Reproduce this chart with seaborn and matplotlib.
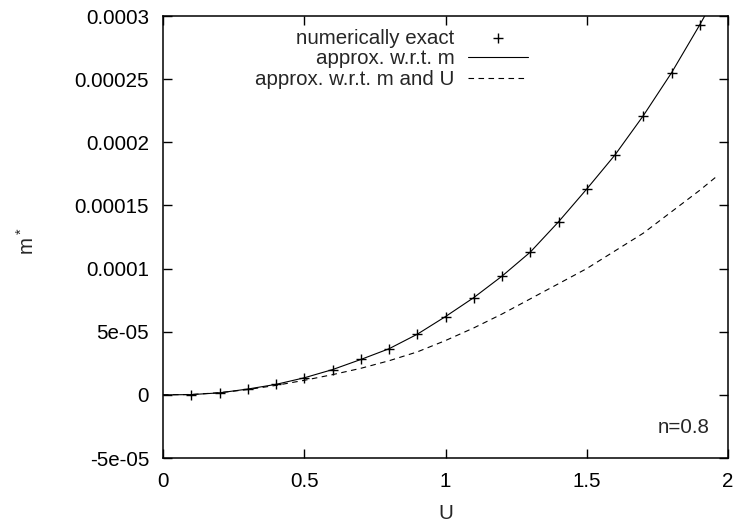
import numpy as np
import pandas as pd
import matplotlib
matplotlib.use("Agg")
import matplotlib.pyplot as plt
import seaborn as sns

# --- data ---
u_exact = [0.1, 0.2, 0.3, 0.4, 0.5, 0.6, 0.7, 0.8, 0.9, 1.0,
           1.1, 1.2, 1.3, 1.4, 1.5, 1.6, 1.7, 1.8, 1.9]
m_exact = [0.0, 1.6e-6, 4.6e-6, 8.3e-6, 1.35e-5, 2.0e-5, 2.8e-5, 3.65e-5, 4.8e-5, 6.2e-5,
           7.7e-5, 9.4e-5, 1.13e-4, 1.37e-4, 1.63e-4, 1.9e-4, 2.21e-4, 2.55e-4, 2.93e-4]

u_line = [0.0, 0.1, 0.2, 0.3, 0.4, 0.5, 0.6, 0.7, 0.8, 0.9, 1.0,
          1.1, 1.2, 1.3, 1.4, 1.5, 1.6, 1.7, 1.8, 1.9, 2.0]
m_approx_m = [0.0, 2e-7, 1.6e-6, 4.6e-6, 8.3e-6, 1.35e-5, 2.0e-5, 2.8e-5, 3.65e-5, 4.8e-5, 6.2e-5,
              7.7e-5, 9.4e-5, 1.13e-4, 1.37e-4, 1.63e-4, 1.9e-4, 2.21e-4, 2.55e-4, 2.93e-4, 3.33e-4]

u_dash = [0.0, 0.1, 0.2, 0.3, 0.4, 0.5, 0.6, 0.7, 0.8, 0.9, 1.0,
          1.1, 1.2, 1.3, 1.4, 1.5, 1.6, 1.7, 1.8, 1.9, 1.96]
m_approx_mu = [0.0, 3e-7, 1.7e-6, 4.2e-6, 7.5e-6, 1.15e-5, 1.6e-5, 2.1e-5, 2.7e-5, 3.4e-5, 4.3e-5,
               5.3e-5, 6.4e-5, 7.6e-5, 8.8e-5, 1.0e-4, 1.14e-4, 1.28e-4, 1.45e-4, 1.62e-4, 1.73e-4]

labels = ["numerically exact", "approx. w.r.t. m", "approx. w.r.t. m and U"]
xtick_vals = [0, 0.5, 1, 1.5, 2]
xtick_labels = ["0", "0.5", "1", "1.5", "2"]
ytick_vals = [-5e-05, 0, 5e-05, 0.0001, 0.00015, 0.0002, 0.00025, 0.0003]
ytick_labels = ["-5e-05", "0", "5e-05", "0.0001", "0.00015", "0.0002", "0.00025", "0.0003"]

sns.set_style("ticks")
plt.rcParams['font.family'] = ['Liberation Sans', 'DejaVu Sans']
plt.rcParams['mathtext.default'] = 'regular'
fs = 14.8

fig = plt.figure(figsize=(7.37, 5.25), dpi=100)
ax = fig.add_axes([163 / 737, 1 - 458 / 525, 565 / 737, 442 / 525])

df_exact = pd.DataFrame({"U": u_exact, "m": m_exact})
df_m = pd.DataFrame({"U": u_line, "m": m_approx_m})
df_mu = pd.DataFrame({"U": u_dash, "m": m_approx_mu})

sns.scatterplot(data=df_exact, x="U", y="m", ax=ax, marker="+", color="black",
                s=60, linewidth=1.0, label=labels[0], zorder=3)
sns.lineplot(data=df_m, x="U", y="m", ax=ax, color="black", linewidth=0.8, label=labels[1])
sns.lineplot(data=df_mu, x="U", y="m", ax=ax, color="black", linewidth=0.8,
             dashes=(5, 4), label=labels[2])

ax.set_xlim(0, 2)
ax.set_ylim(-5e-05, 0.0003)
ax.set_xticks(xtick_vals)
ax.set_xticklabels(xtick_labels)
ax.set_yticks(ytick_vals)
ax.set_yticklabels(ytick_labels)
ax.tick_params(direction="in", length=6.5, width=1, top=True, right=True,
               labelsize=fs, pad=10, colors="black")
for s in ax.spines.values():
    s.set_linewidth(1.1)
    s.set_color("black")

ax.set_xlabel("U", fontsize=fs)
ax.set_ylabel("m$^*$", fontsize=fs, rotation=90)
ax.xaxis.set_label_coords(0.5, -0.104)
ax.yaxis.set_label_coords(-0.222, 0.49)

ax.text(0.968, 0.07, "n=0.8", transform=ax.transAxes, ha="right", va="center", fontsize=fs)

# legend: text right-aligned, sample on the right (gnuplot style)
handles, lbls = ax.get_legend_handles_labels()
ax.legend(handles, lbls, loc="upper right", bbox_to_anchor=(0.646, 0.971), frameon=False,
          markerfirst=False, fontsize=fs, handlelength=2.9, handletextpad=0.68,
          labelspacing=0.08, borderpad=0, borderaxespad=0)

fig.savefig("out.png", dpi=100)
